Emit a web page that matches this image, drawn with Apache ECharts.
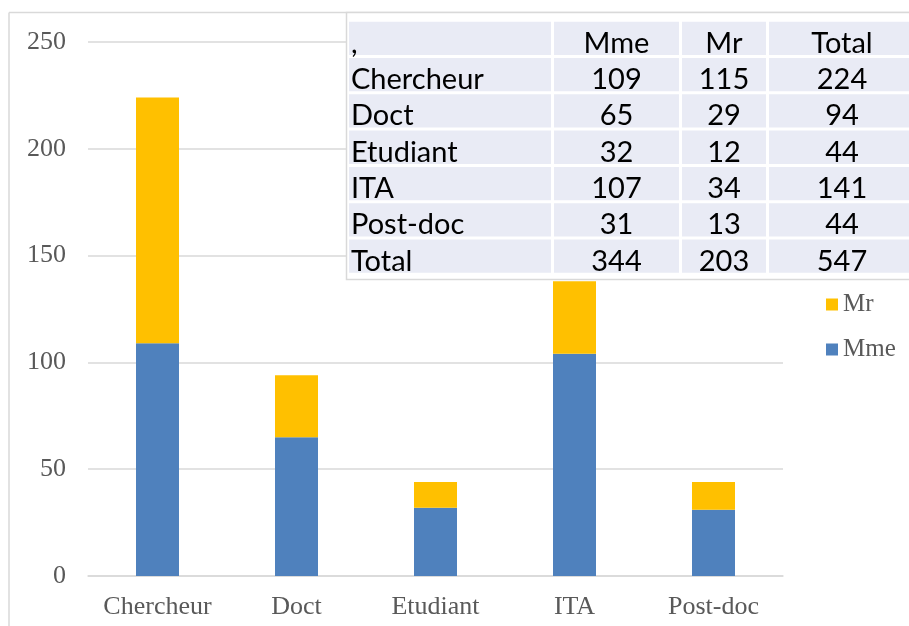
<!DOCTYPE html>
<html>
<head>
<meta charset="utf-8">
<script src="https://cdn.jsdelivr.net/npm/echarts@6/dist/echarts.min.js"></script>
<style>
html,body{margin:0;padding:0;background:#fff;}
#chart{width:909px;height:626px;}
</style>
</head>
<body>
<div id="chart"></div>
<script>
// Chart data
const categories = ['Chercheur', 'Doct', 'Etudiant', 'ITA', 'Post-doc'];
const mmeValues = [109, 65, 32, 104, 31];
const mrValues = [115, 29, 12, 34, 13];
const seriesNames = ['Mme', 'Mr'];

// Overlay table data
const tableHeader = [',', 'Mme', 'Mr', 'Total'];
const tableRowLabels = ['Chercheur', 'Doct', 'Etudiant', 'ITA', 'Post-doc', 'Total'];
const tableMme = [109, 65, 32, 107, 31, 344];
const tableMr = [115, 29, 12, 34, 13, 203];
const tableTotal = [224, 94, 44, 141, 44, 547];

const chart = echarts.init(document.getElementById('chart'));

const labelFont = '"Liberation Serif", "DejaVu Serif", serif';
const tableFont = 'Lato, "Open Sans", sans-serif';
const gridColor = '#D9D9D9';

// build table graphics
const colX = [[349, 551], [554, 679], [682, 766], [769, 915]];
const rowTop = 21.7, rowPitch = 36.3, rowH = 33.3;
const tableRows = [tableHeader].concat(tableRowLabels.map((l, i) => [l, tableMme[i], tableMr[i], tableTotal[i]]));
const graphics = [];
// chart frame (left + top)
graphics.push({type: 'line', shape: {x1: 9, y1: 12.5, x2: 909, y2: 12.5}, style: {stroke: gridColor, lineWidth: 1.5}, silent: true});
graphics.push({type: 'line', shape: {x1: 9, y1: 12.5, x2: 9, y2: 626}, style: {stroke: gridColor, lineWidth: 1.5}, silent: true});
// table outer box
graphics.push({type: 'rect', shape: {x: 346.5, y: 12.5, width: 570, height: 267}, style: {fill: '#fff', stroke: gridColor, lineWidth: 1.5}, silent: true, z: 100});
tableRows.forEach((row, r) => {
  const y0 = rowTop + r * rowPitch;
  row.forEach((val, c) => {
    const [xa, xb] = colX[c];
    graphics.push({type: 'rect', shape: {x: xa, y: y0, width: xb - xa, height: rowH}, style: {fill: '#E9EBF5'}, silent: true, z: 101});
    graphics.push({
      type: 'text', silent: true, z: 102,
      x: c === 0 ? 351 : (xa + xb) / 2,
      y: y0 + rowH / 2 + 5,
      style: {
        text: String(val), fill: '#000', font: '29px ' + tableFont,
        textAlign: c === 0 ? 'left' : 'center', textVerticalAlign: 'middle'
      }
    });
  });
});

chart.setOption({
  animation: false,
  backgroundColor: '#fff',
  grid: {left: 88, right: 126, top: 42, bottom: 50},
  legend: {
    orient: 'vertical', left: 821, top: 287,
    data: ['Mr', 'Mme'],
    icon: 'rect', itemWidth: 12, itemHeight: 12, itemGap: 20,
    textStyle: {color: '#595959', fontFamily: labelFont, fontSize: 25, lineHeight: 24}
  },
  xAxis: {
    type: 'category', data: categories,
    axisLine: {lineStyle: {color: gridColor, width: 1.5}},
    axisTick: {show: false},
    axisLabel: {color: '#595959', fontFamily: labelFont, fontSize: 26, margin: 18, interval: 0, hideOverlap: false}
  },
  yAxis: {
    type: 'value', min: 0, max: 250, interval: 50,
    axisLine: {show: false}, axisTick: {show: false},
    splitLine: {lineStyle: {color: gridColor, width: 1.5}},
    axisLabel: {color: '#595959', fontFamily: labelFont, fontSize: 26, margin: 22}
  },
  series: [
    {name: seriesNames[0], type: 'bar', stack: 'total', data: mmeValues, barWidth: 43, itemStyle: {color: '#4F81BD'}},
    {name: seriesNames[1], type: 'bar', stack: 'total', data: mrValues, barWidth: 43, itemStyle: {color: '#FFC000'}}
  ],
  graphic: graphics
});
</script>
</body>
</html>
